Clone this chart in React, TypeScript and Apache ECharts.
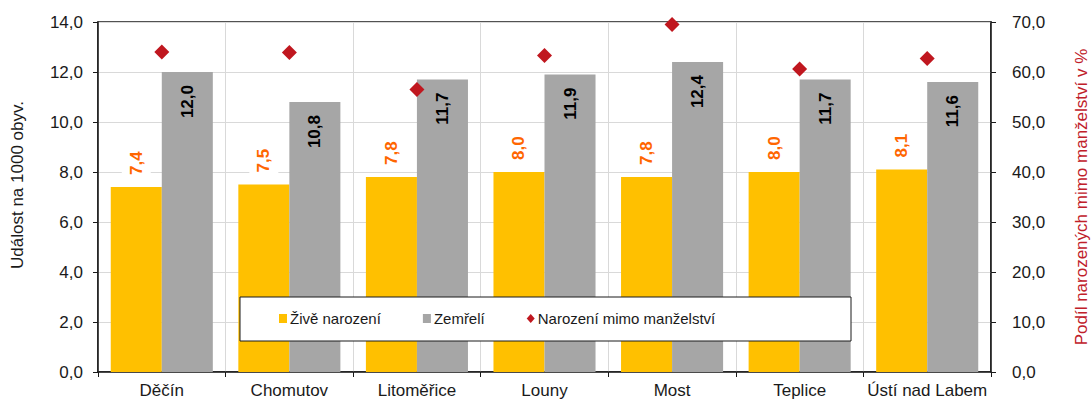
import React, { useEffect, useRef } from "react";
import * as echarts from "echarts";

const categories = ["Děčín", "Chomutov", "Litoměřice", "Louny", "Most", "Teplice", "Ústí nad Labem"];
const liveBirths = [7.4, 7.5, 7.8, 8.0, 7.8, 8.0, 8.1];
const deaths = [12.0, 10.8, 11.7, 11.9, 12.4, 11.7, 11.6];
const outOfWedlock = [64.0, 63.9, 56.5, 63.3, 69.5, 60.6, 62.7];

const seriesNames = ["Živě narození", "Zemřelí", "Narození mimo manželství"];
const leftAxisName = "Událost na 1000 obyv.";
const rightAxisName = "Podíl narozených mimo manželství v %";

const fmt = (v: number) => v.toFixed(1).replace(".", ",");
const FONT = "Liberation Sans, Arial, sans-serif";

export default function App() {
  const ref = useRef<HTMLDivElement>(null);
  useEffect(() => {
    if (!ref.current) return;
    const chart = echarts.init(ref.current, undefined, { renderer: "svg" });
    chart.setOption({
      animation: false,
      textStyle: { fontFamily: FONT },
      grid: {
        left: 98,
        right: 101,
        top: 22,
        bottom: 28,
        outerBoundsMode: "none",
        containLabel: false,
        show: true,
        borderColor: "#1a1a1a",
        borderWidth: 1.5,
      },
      graphic: [
        {
          type: "rect",
          z: 50,
          shape: { x: 240, y: 297, width: 611, height: 44 },
          style: { fill: "#ffffff", stroke: "#1a1a1a", lineWidth: 1 },
        },
      ],
      legend: {
        z: 60,
        left: 279,
        top: 311,
        padding: 0,
        itemWidth: 8,
        itemHeight: 9,
        itemGap: 42,
        textStyle: { fontSize: 15, color: "#1a1a1a", fontFamily: FONT, padding: [0, 0, 0, -2] },
        data: [
          { name: seriesNames[0], icon: "rect" },
          { name: seriesNames[1], icon: "rect" },
          { name: seriesNames[2], icon: "diamond" },
        ],
      },
      xAxis: {
        type: "category",
        data: categories,
        axisLine: { lineStyle: { color: "#1a1a1a", width: 1.5 } },
        axisTick: { show: true, length: 5, lineStyle: { color: "#1a1a1a" } },
        axisLabel: { color: "#1a1a1a", fontSize: 17, margin: 10, interval: 0 },
        splitLine: { show: true, lineStyle: { color: "#d9d9d9", width: 1 } },
      },
      yAxis: [
        {
          type: "value",
          min: 0,
          max: 14,
          interval: 2,
          name: leftAxisName,
          nameLocation: "middle",
          nameRotate: 90,
          nameGap: 72,
          nameTextStyle: { fontSize: 17, color: "#1a1a1a", padding: [0, 0, 0, 24] },
          axisLine: { show: true, lineStyle: { color: "#1a1a1a", width: 1.5 } },
          axisTick: { show: true, length: 5, lineStyle: { color: "#1a1a1a" } },
          axisLabel: { color: "#1a1a1a", fontSize: 17, margin: 15, formatter: (v: number) => fmt(v) },
          splitLine: { show: true, lineStyle: { color: "#d9d9d9", width: 1 } },
        },
        {
          type: "value",
          min: 0,
          max: 70,
          interval: 10,
          position: "right",
          name: rightAxisName,
          nameLocation: "middle",
          nameRotate: 90,
          nameGap: 82,
          nameTextStyle: { fontSize: 17, color: "#c0202a" },
          axisLine: { show: true, lineStyle: { color: "#1a1a1a", width: 1.5 } },
          axisTick: { show: true, length: 5, lineStyle: { color: "#1a1a1a" } },
          axisLabel: { color: "#1a1a1a", fontSize: 17, margin: 21, formatter: (v: number) => fmt(v) },
          splitLine: { show: false },
        },
      ],
      series: [
        {
          name: seriesNames[0],
          type: "bar",
          data: liveBirths,
          barGap: "0%",
          barCategoryGap: "20%",
          itemStyle: { color: "#ffc000" },
          label: {
            show: true,
            position: "top",
            distance: 9,
            rotate: 90,
            align: "left",
            verticalAlign: "middle",
            color: "#ff6600",
            fontWeight: "bold",
            fontSize: 17,
            backgroundColor: "#ffffff",
            padding: [6, 3],
            formatter: (p: any) => fmt(p.value),
          },
        },
        {
          name: seriesNames[1],
          type: "bar",
          data: deaths,
          barGap: "0%",
          barCategoryGap: "20%",
          itemStyle: { color: "#a6a6a6" },
          label: {
            show: true,
            position: "insideTop",
            distance: 13,
            rotate: 90,
            align: "right",
            verticalAlign: "middle",
            color: "#000000",
            fontWeight: "bold",
            fontSize: 17,
            formatter: (p: any) => fmt(p.value),
          },
        },
        {
          name: seriesNames[2],
          type: "scatter",
          yAxisIndex: 1,
          data: outOfWedlock,
          symbol: "diamond",
          symbolSize: 15,
          z: 5,
          itemStyle: { color: "#c0171f", opacity: 1 },
        },
      ],
    });
    return () => chart.dispose();
  }, []);
  return (
    <div
      ref={ref}
      style={{ position: "fixed", left: 0, top: 0, width: 1092, height: 400, background: "#fff" }}
    />
  );
}
